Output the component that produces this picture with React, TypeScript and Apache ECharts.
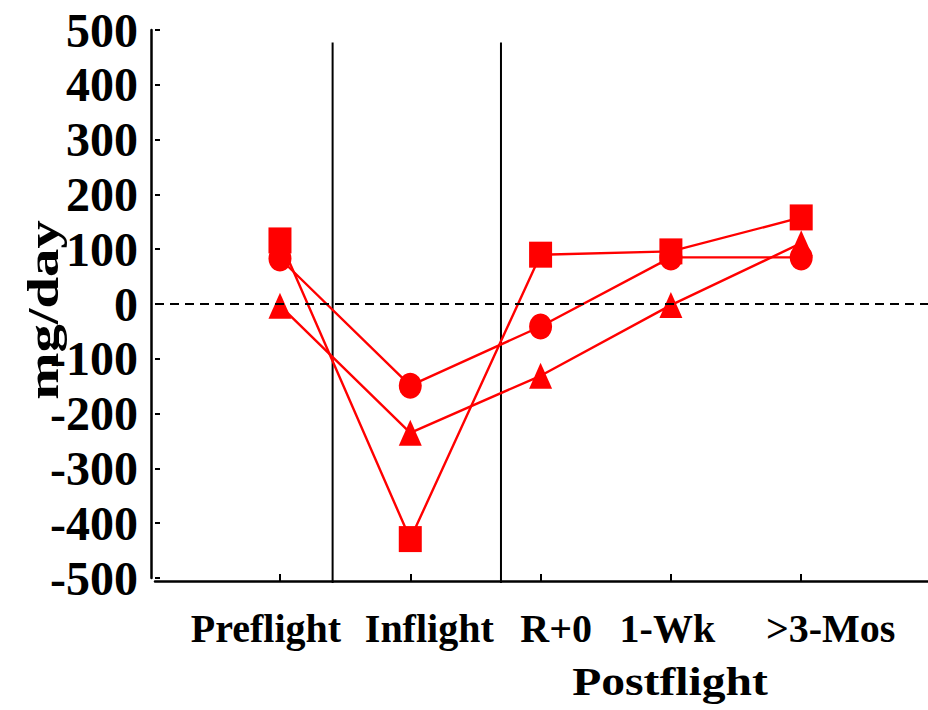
import React, { useEffect, useRef } from "react";
import * as echarts from "echarts";

const categories = ["Preflight", "Inflight", "R+0", "1-Wk", ">3-Mos"];
const squareValues = [116, -429, 90, 96, 158];
const circleValues = [83, -149, -41, 85, 85];
const triangleValues = [-3, -235, -131, -2, 111];
const yMin = -500;
const yMax = 500;
const yStep = 100;
const phaseBoundaries = [0.404, 1.696];
const boundaryTop = 477;
const yTitle = "mg/day";
const xTitle = "Postflight";

const FONT = "'Liberation Serif', 'Times New Roman', serif";
const RED = "#ff0000";
// horizontal shift of each category label relative to its tick (px)
const labelShift = [-14, 19, 15.5, -3.5, 29.5];

export default function App() {
  const ref = useRef<HTMLDivElement>(null);
  useEffect(() => {
    if (!ref.current) return;
    const chart = echarts.init(ref.current, undefined, { renderer: "svg" });
    const toData = (vals: number[]) => vals.map((v, i) => [i, v]);
    const seriesBase = {
      type: "line",
      lineStyle: { color: RED, width: 2.4 },
      itemStyle: { color: RED },
      symbolSize: [23, 26],
      showSymbol: true,
    };
    chart.setOption({
      animation: false,
      backgroundColor: "#fff",
      grid: { left: 155, right: 0, top: 30, bottom: 132 },
      xAxis: {
        type: "value",
        min: -0.959,
        max: 4.973,
        offset: 3,
        splitLine: { show: false },
        axisLine: { show: true, onZero: false, lineStyle: { color: "#000", width: 2.5 } },
        axisTick: {
          show: true,
          inside: true,
          length: 7,
          customValues: [0, 1, 2, 3, 4],
          lineStyle: { color: "#000", width: 2 },
        },
        axisLabel: { show: false },
      },
      yAxis: [
        {
          type: "value",
          position: "left",
          min: yMin,
          max: yMax,
          interval: yStep,
          offset: 4,
          splitLine: { show: false },
          axisLine: { show: true, onZero: false, lineStyle: { color: "#000", width: 2.5 } },
          axisTick: { show: false },
          axisLabel: {
            margin: 13,
            fontFamily: FONT,
            fontWeight: "bold",
            fontSize: 48,
            color: "#000",
            padding: [0, 0, 8, 0],
          },
        },
        {
          type: "value",
          position: "left",
          min: yMin,
          max: yMax,
          interval: yStep,
          offset: 0,
          splitLine: { show: false },
          axisLine: { show: false, onZero: false },
          axisTick: { show: true, inside: true, length: 5, lineStyle: { color: "#000", width: 2 } },
          axisLabel: { show: false },
        },
      ],
      series: [
        {
          ...seriesBase,
          name: "circle",
          symbol: "circle",
          data: toData(circleValues),
          z: 2,
          markLine: {
            silent: true,
            symbol: "none",
            label: { show: false },
            data: [{ yAxis: 0 }],
            lineStyle: { type: [9, 6], width: 2, color: "#000" },
          },
        },
        { ...seriesBase, name: "triangle", symbol: "triangle", data: toData(triangleValues), z: 3 },
        { ...seriesBase, name: "square", symbol: "rect", data: toData(squareValues), z: 4 },
      ],
    });

    const px = (x: number, y: number) => chart.convertToPixel({ xAxisIndex: 0, yAxisIndex: 0 }, [x, y]) as number[];
    const graphics: any[] = [];
    phaseBoundaries.forEach((b) => {
      const top = px(b, boundaryTop);
      const bot = px(b, yMin);
      graphics.push({
        type: "line",
        shape: { x1: top[0], y1: top[1], x2: bot[0], y2: bot[1] + 5 },
        style: { stroke: "#000", lineWidth: 2 },
        z: 1,
      });
    });
    categories.forEach((c, i) => {
      const p = px(i, yMin);
      graphics.push({
        type: "text",
        x: p[0] + labelShift[i],
        y: 628,
        style: {
          text: c,
          fontFamily: FONT,
          fontWeight: "bold",
          fontSize: 40,
          fill: "#000",
          textAlign: "center",
          textVerticalAlign: "middle",
        },
      });
    });
    graphics.push(
      {
        type: "text",
        x: 43,
        y: 310,
        rotation: Math.PI / 2,
        scaleX: 1.29,
        style: {
          text: yTitle,
          fontFamily: FONT,
          fontWeight: "bold",
          fontSize: 44,
          fill: "#000",
          textAlign: "center",
          textVerticalAlign: "middle",
        },
      },
      {
        type: "text",
        x: 670,
        y: 682,
        scaleX: 1.19,
        style: {
          text: xTitle,
          fontFamily: FONT,
          fontWeight: "bold",
          fontSize: 40,
          fill: "#000",
          textAlign: "center",
          textVerticalAlign: "middle",
        },
      }
    );
    chart.setOption({ graphic: graphics });
    return () => chart.dispose();
  }, []);
  return (
    <div
      ref={ref}
      style={{ position: "fixed", left: 0, top: 0, width: 928, height: 710, background: "#fff" }}
    />
  );
}
